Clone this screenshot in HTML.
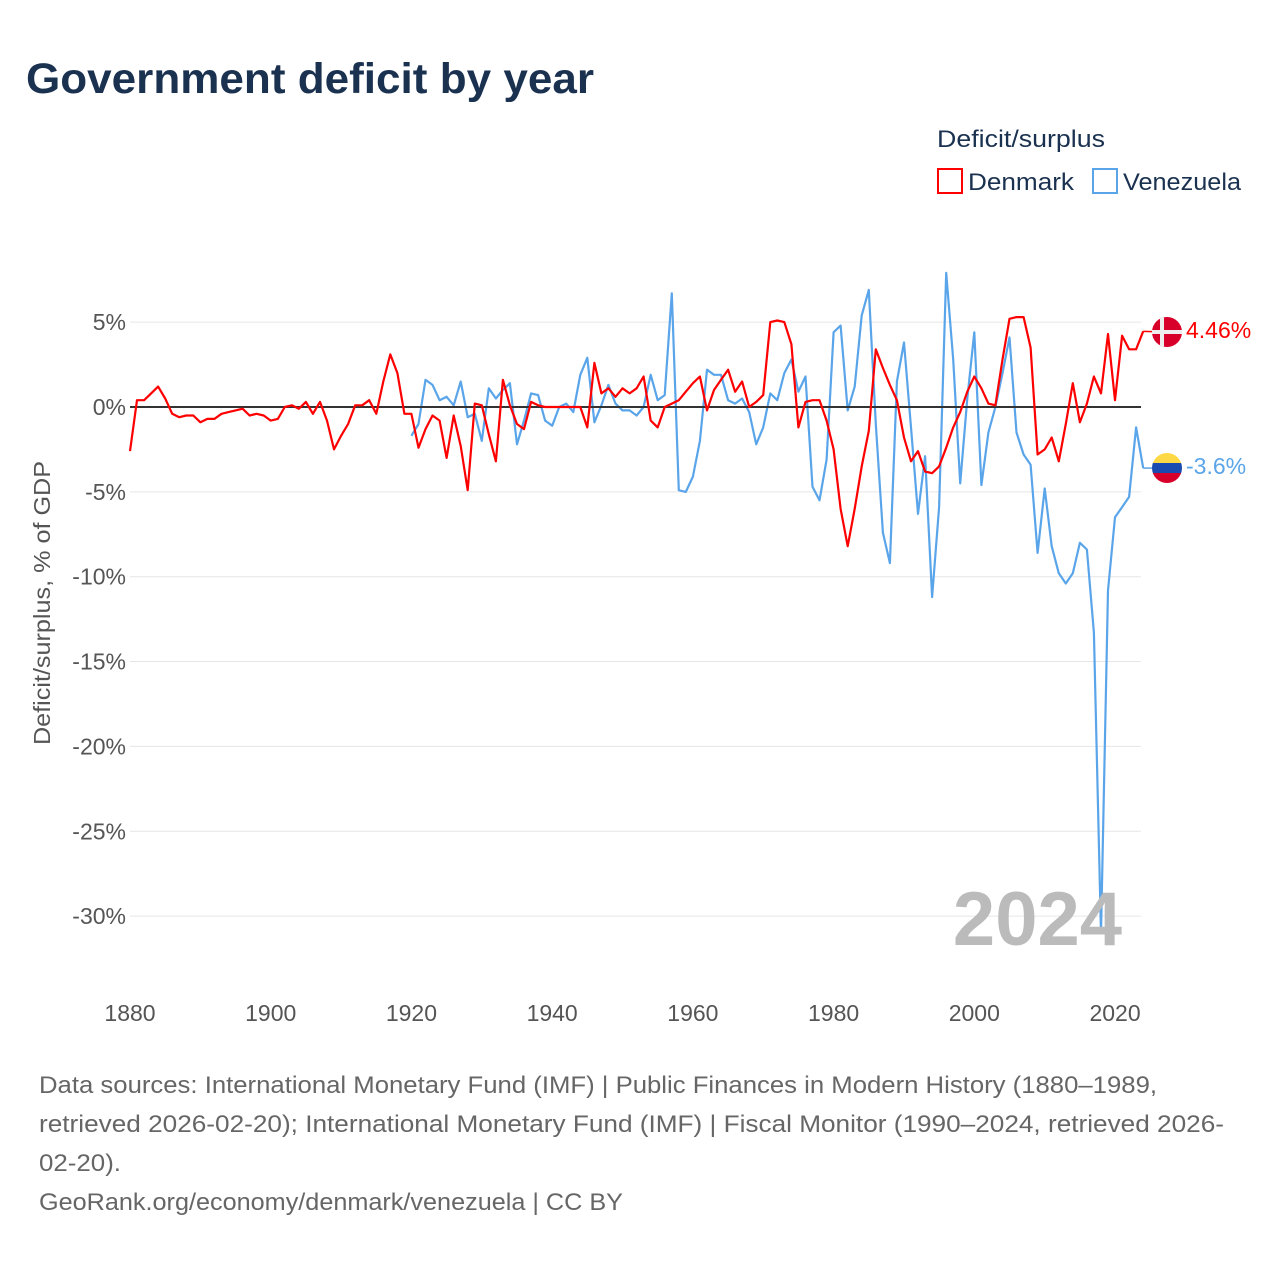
<!DOCTYPE html>
<html><head><meta charset="utf-8">
<style>
body{margin:0;background:#fff;width:1280px;height:1280px;overflow:hidden;font-family:"Liberation Sans",sans-serif;}
svg text{font-family:"Liberation Sans",sans-serif;}
</style></head>
<body>
<svg id="chart" width="1280" height="1280" viewBox="0 0 1280 1280">
<text x="26" y="93" font-size="43" font-weight="bold" fill="#1a3150" textLength="568" lengthAdjust="spacingAndGlyphs">Government deficit by year</text>
<text x="937" y="147" font-size="24" fill="#1a3150" textLength="168" lengthAdjust="spacingAndGlyphs">Deficit/surplus</text>
<g>
<rect x="938" y="169" width="24" height="24" fill="none" stroke="#ff0000" stroke-width="2"/>
<text x="968" y="190" font-size="24" fill="#1a3150" textLength="106" lengthAdjust="spacingAndGlyphs">Denmark</text></g>
<g>
<rect x="1093" y="169" width="24" height="24" fill="none" stroke="#5aa5ea" stroke-width="2"/>
<text x="1123" y="190" font-size="24" fill="#1a3150" textLength="118" lengthAdjust="spacingAndGlyphs">Venezuela</text></g>
<text transform="translate(50,603) rotate(-90)" text-anchor="middle" font-size="23" fill="#555" textLength="284" lengthAdjust="spacingAndGlyphs">Deficit/surplus, % of GDP</text>
<g id="grid"></g>
<g id="xticks"></g>
<g id="lines"></g>
<text x="1122" y="945" text-anchor="end" font-size="76" font-weight="bold" fill="#bbb">2024</text>
<g id="endlabels"></g>
<g font-size="24" fill="#666">
<text x="39" y="1093" textLength="1118" lengthAdjust="spacingAndGlyphs">Data sources: International Monetary Fund (IMF) | Public Finances in Modern History (1880–1989,</text>
<text x="39" y="1132" textLength="1185" lengthAdjust="spacingAndGlyphs">retrieved 2026-02-20); International Monetary Fund (IMF) | Fiscal Monitor (1990–2024, retrieved 2026-</text>
<text x="39" y="1171" textLength="82" lengthAdjust="spacingAndGlyphs">02-20).</text>
<text x="39" y="1210" textLength="584" lengthAdjust="spacingAndGlyphs">GeoRank.org/economy/denmark/venezuela | CC BY</text>
</g>
</svg>
<script>
const denmarkStart = 1880;
const denmarkValues = [-2.6,0.4,0.4,0.8,1.2,0.5,-0.4,-0.6,-0.5,-0.5,-0.9,-0.7,-0.7,-0.4,-0.3,-0.2,-0.1,-0.5,-0.4,-0.5,-0.8,-0.7,0,0.1,-0.1,0.3,-0.4,0.3,-0.8,-2.5,-1.7,-1.0,0.1,0.1,0.4,-0.4,1.5,3.1,2.0,-0.4,-0.4,-2.4,-1.3,-0.5,-0.8,-3.0,-0.5,-2.3,-4.9,0.2,0.1,-1.6,-3.2,1.6,0.1,-1.0,-1.3,0.3,0.1,0,0,0,0,0,0,-1.2,2.6,0.8,1.1,0.6,1.1,0.8,1.1,1.8,-0.8,-1.2,0,0.2,0.4,0.9,1.4,1.8,-0.2,1.0,1.6,2.2,0.9,1.5,0,0.3,0.7,5.0,5.1,5.0,3.7,-1.2,0.3,0.4,0.4,-0.8,-2.5,-6.0,-8.2,-6.0,-3.5,-1.4,3.4,2.3,1.3,0.4,-1.8,-3.2,-2.6,-3.8,-3.9,-3.5,-2.4,-1.2,-0.3,0.9,1.8,1.1,0.2,0.1,2.8,5.2,5.3,5.3,3.5,-2.8,-2.5,-1.8,-3.2,-1.0,1.4,-0.9,0.2,1.8,0.8,4.3,0.4,4.2,3.4,3.4,4.46];
const venezuelaStart = 1920;
const venezuelaValues = [-1.7,-1.0,1.6,1.3,0.4,0.6,0.1,1.5,-0.6,-0.4,-2.0,1.1,0.5,1.0,1.4,-2.2,-0.8,0.8,0.7,-0.8,-1.1,0,0.2,-0.3,1.9,2.9,-0.9,0.1,1.3,0.2,-0.2,-0.2,-0.5,0,1.9,0.4,0.7,6.7,-4.9,-5.0,-4.1,-2.0,2.2,1.9,1.9,0.4,0.2,0.5,-0.3,-2.2,-1.2,0.8,0.4,2.0,2.8,0.9,1.8,-4.7,-5.5,-3.1,4.4,4.8,-0.2,1.2,5.4,6.9,-1.0,-7.4,-9.2,1.5,3.8,-1.2,-6.3,-2.9,-11.2,-5.9,7.9,2.8,-4.5,0.5,4.4,-4.6,-1.5,0,2.0,4.1,-1.5,-2.8,-3.4,-8.6,-4.8,-8.2,-9.8,-10.4,-9.8,-8.0,-8.4,-13.3,-31.0,-10.8,-6.5,-5.9,-5.3,-1.2,-3.6];
const yTicks = [5,0,-5,-10,-15,-20,-25,-30];
const yTickLabels = ["5%","0%","-5%","-10%","-15%","-20%","-25%","-30%"];
const xTicks = [1880,1900,1920,1940,1960,1980,2000,2020];
const endLabels = ["4.46%","-3.6%"];

const NS="http://www.w3.org/2000/svg";
const xS = y => 130 + (y-1880)*7.036;
const yS = v => 407 - v*16.97;
function mk(tag, attrs, parent){const e=document.createElementNS(NS,tag);for(const k in attrs)e.setAttribute(k,attrs[k]);parent.appendChild(e);return e;}
const grid=document.getElementById('grid'), xt=document.getElementById('xticks'), lines=document.getElementById('lines'), el=document.getElementById('endlabels');
yTicks.forEach((t,i)=>{
  if(t!==0){const l=mk('line',{x1:130,x2:1141,y1:yS(t),y2:yS(t),stroke:'#e6e6e6','stroke-width':1},grid);
  
  }
  const tx=mk('text',{x:126,y:yS(t)+8,'text-anchor':'end','font-size':23,fill:'#555'},grid);
  tx.textContent=yTickLabels[i];
  
  
});
xTicks.forEach(t=>{
  const tx=mk('text',{x:xS(t),y:1021,'text-anchor':'middle','font-size':23,fill:'#555'},xt);
  tx.textContent=t;
  
  
});
function series(start, vals, color, name){
  const d=vals.map((v,i)=>(i?'L':'M')+xS(start+i).toFixed(1)+','+yS(v).toFixed(1)).join('');
  const p=mk('path',{d:d,fill:'none',stroke:color,'stroke-width':2.2,'stroke-linejoin':'round'},lines);
  
  
}
series(venezuelaStart, venezuelaValues, '#5aa5ea', 'venezuela-line');
const z=mk('line',{x1:130,x2:1141,y1:yS(0),y2:yS(0),stroke:'#333','stroke-width':2},lines);


series(denmarkStart, denmarkValues, '#ff0000', 'denmark-line');

const dk=denmarkValues[denmarkValues.length-1], ve=venezuelaValues[venezuelaValues.length-1];
const lx=xS(2024);
mk('line',{x1:lx,x2:1167,y1:yS(dk),y2:332,stroke:'#ff0000','stroke-width':1.5},el);
mk('line',{x1:lx,x2:1167,y1:yS(ve),y2:468,stroke:'#5aa5ea','stroke-width':1.5},el);
const fd=mk('g',{},el);


mk('circle',{cx:1167,cy:332,r:15,fill:'#d8002a'},fd);
mk('rect',{x:1160,y:317,width:4,height:30,fill:'#eee'},fd);
mk('rect',{x:1152,y:330,width:30,height:4,fill:'#eee'},fd);
const fv=mk('g',{},el);


mk('clipPath',{id:'vc'},fv).appendChild(document.createElementNS(NS,'circle'));
const cc=fv.querySelector('clipPath circle');cc.setAttribute('cx',1167);cc.setAttribute('cy',468);cc.setAttribute('r',15);
const gv=mk('g',{'clip-path':'url(#vc)'},fv);
mk('rect',{x:1152,y:453,width:30,height:10,fill:'#ffd945'},gv);
mk('rect',{x:1152,y:463,width:30,height:10,fill:'#1a4bb0'},gv);
mk('rect',{x:1152,y:473,width:30,height:10,fill:'#d8002a'},gv);
const t1=mk('text',{x:1186,y:338,'font-size':23,fill:'#ff0000'},el);
t1.textContent=endLabels[0];


const t2=mk('text',{x:1186,y:474,'font-size':23,fill:'#5aa5ea'},el);
t2.textContent=endLabels[1];


</script>
</body></html>
